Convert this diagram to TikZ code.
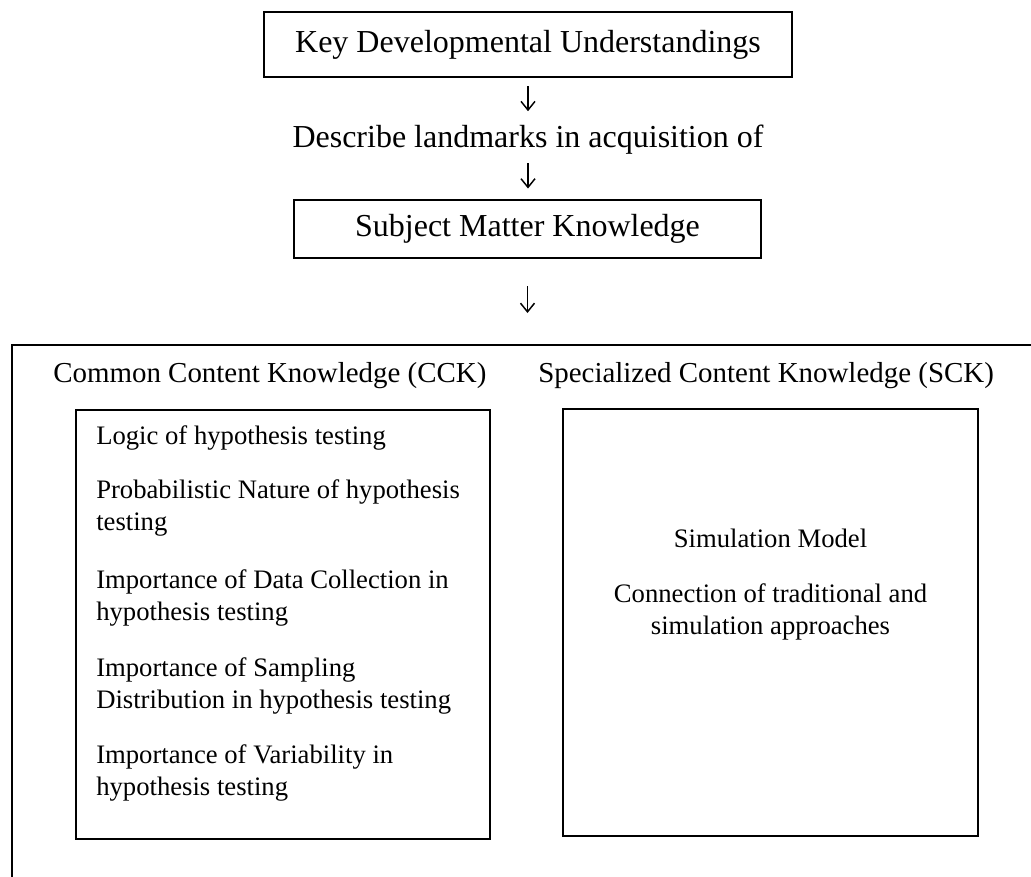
\documentclass[tikz,border=0pt]{standalone}
\usepackage{fontspec}
\setmainfont{Liberation Serif}
\usetikzlibrary{arrows.meta}
\begin{document}
\begin{tikzpicture}[x=0.75pt,y=-0.75pt,
  box/.style={draw,line width=2.2pt,inner sep=0pt,font=\fontsize{24pt}{28pt}\selectfont},
  panel/.style={draw,line width=2.2pt,inner sep=0pt},
  lead/.style={inner sep=0pt,font=\fontsize{24pt}{28pt}\selectfont},
  head/.style={inner sep=0pt,anchor=base west,font=\fontsize{21.7pt}{26pt}\selectfont},
  item/.style={inner sep=0pt,align=left,anchor=base west,font=\fontsize{20pt}{24pt}\selectfont},
  citem/.style={inner sep=0pt,align=center,anchor=base,font=\fontsize{20pt}{24pt}\selectfont},
  down/.style={-{Straight Barb[length=6.5pt,width=10.5pt]},line width=1.1pt},
]
\useasboundingbox (0,0) rectangle (1031,877);
\clip (0,0) rectangle (1031,877);

% top chain
\node[box,minimum width=396pt,minimum height=48.75pt] (kdu) at (528,44.5) {Key Developmental Understandings};
\node[lead,anchor=base] (desc) at (528,148) {Describe landmarks in acquisition of};
\node[box,minimum width=350.25pt,minimum height=43.5pt] (smk) at (527.5,229) {Subject Matter Knowledge};

% outer frame (runs off the page on the right and bottom)
\draw[line width=2.2pt] (12,345) rectangle (1070,910);
\coordinate (frametop) at (527.5,345);

\draw[down,shorten <=6pt,shorten >=10.5pt] (kdu.south -| desc.north) -- (desc.north);
\draw[down,shorten <=6pt,shorten >=7.5pt] (desc.south) -- (desc.south |- smk.north);
\draw[down,shorten <=20.25pt,shorten >=24pt] (smk.south) -- (frametop);

% column headings
\node[head] (cckhead) at (53,382) {Common Content Knowledge (CCK)};
\node[head] (sckhead) at (538,382) {Specialized Content Knowledge (SCK)};

% inner panels
\node[panel,minimum width=310.5pt,minimum height=321.75pt] (cck) at (283,624.5) {};
\node[panel,minimum width=311.25pt,minimum height=320.25pt] (sck) at (770.5,622.5) {};

% CCK items (base anchor sits on the last line of each entry)
\node[item] (c1) at (96,444) {Logic of hypothesis testing};
\node[item] (c2) at (96,530) {Probabilistic Nature of hypothesis\\testing};
\node[item] (c3) at (96,620) {Importance of Data Collection in\\hypothesis testing};
\node[item] (c4) at (96,708) {Importance of Sampling\\Distribution in hypothesis testing};
\node[item] (c5) at (96,795) {Importance of Variability in\\hypothesis testing};

% SCK items
\node[citem] (s1) at (770.5,547) {Simulation Model};
\node[citem] (s2) at (770.5,634) {Connection of traditional and\\simulation approaches};
\end{tikzpicture}
\end{document}
